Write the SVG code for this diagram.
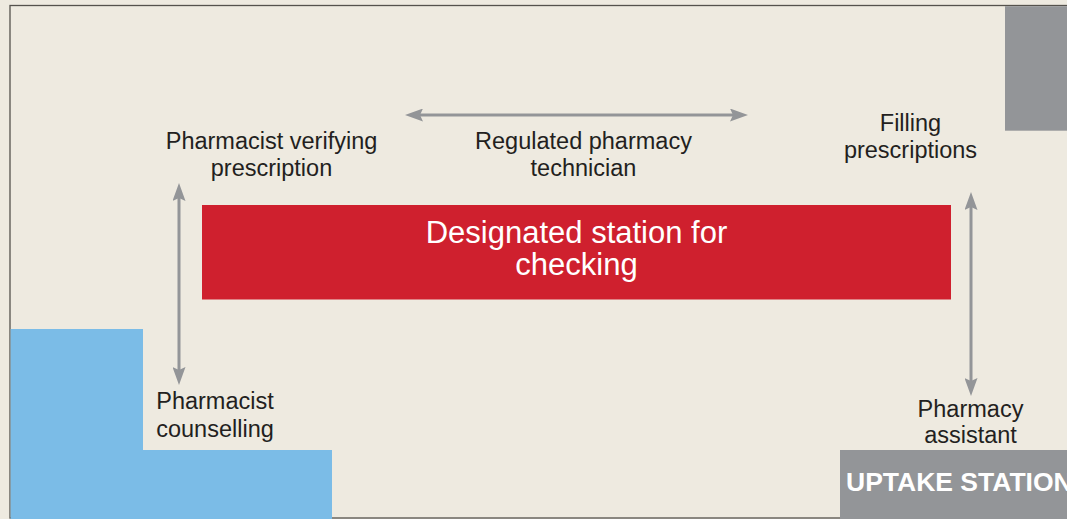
<svg xmlns="http://www.w3.org/2000/svg" width="1067" height="519" viewBox="0 0 1067 519">
  <style>
    .lbl { font-family: "Liberation Sans", Arial, sans-serif; font-size: 23.5px; fill: #231f20; text-anchor: middle; }
    .big { font-family: "Liberation Sans", Arial, sans-serif; font-size: 31px; fill: #ffffff; text-anchor: middle; }
    .tag { font-family: "Liberation Sans", Arial, sans-serif; font-size: 26.5px; font-weight: bold; fill: #ffffff; }
    .conn { stroke: #939598; stroke-width: 3; fill: none; marker-start: url(#head); marker-end: url(#head); }
  </style>
  <defs>
    <marker id="head" markerUnits="userSpaceOnUse" markerWidth="18" markerHeight="13" refX="3" refY="6.5" orient="auto-start-reverse" viewBox="0 0 18 13">
      <path d="M0,0 L18,6.5 L0,13 L3,6.5 Z" fill="#939598"/>
    </marker>
  </defs>

  <!-- floor -->
  <rect x="0" y="0" width="1067" height="519" fill="#eeeae0"/>
  <rect x="10" y="5.5" width="1070" height="512.5" fill="#eeeae0" stroke="#55524d" stroke-width="1.3"/>

  <!-- counselling area -->
  <g id="counselling-area">
    <path d="M10.6,329 H143 V450 H332 V519 H10.6 Z" fill="#7bbce7"/>
  </g>

  <!-- shelving top right -->
  <g id="shelf">
    <rect x="1005" y="6.2" width="62" height="124.5" fill="#939598"/>
  </g>

  <!-- uptake station -->
  <g id="uptake-station">
    <rect x="840" y="450" width="227" height="69" fill="#939598"/>
    <text class="tag" x="846" y="491">UPTAKE STATION</text>
  </g>

  <!-- checking station -->
  <g id="checking-station">
    <rect x="202" y="205" width="749" height="94.5" fill="#cf202e"/>
    <text class="big" x="576.5" y="243">Designated station for</text>
    <text class="big" x="576.5" y="275">checking</text>
  </g>

  <g id="pharmacist-verifying">
    <text class="lbl" x="271.5" y="149">Pharmacist verifying</text>
    <text class="lbl" x="271.5" y="176">prescription</text>
  </g>

  <g id="technician">
    <text class="lbl" x="583.5" y="149">Regulated pharmacy</text>
    <text class="lbl" x="583.5" y="176">technician</text>
  </g>

  <g id="filling">
    <text class="lbl" x="910.5" y="131">Filling</text>
    <text class="lbl" x="910.5" y="158">prescriptions</text>
  </g>

  <g id="pharmacy-assistant">
    <text class="lbl" x="970.5" y="416.5">Pharmacy</text>
    <text class="lbl" x="970.5" y="443">assistant</text>
  </g>

  <g id="pharmacist-counselling">
    <text class="lbl" x="215" y="409">Pharmacist</text>
    <text class="lbl" x="215" y="436.5">counselling</text>
  </g>

  <!-- movement between stations -->
  <g id="connectors">
    <line class="conn" x1="420" y1="115" x2="733" y2="115"/>
    <line class="conn" x1="179" y1="198" x2="179" y2="370"/>
    <line class="conn" x1="971" y1="207" x2="971" y2="381"/>
  </g>
</svg>
